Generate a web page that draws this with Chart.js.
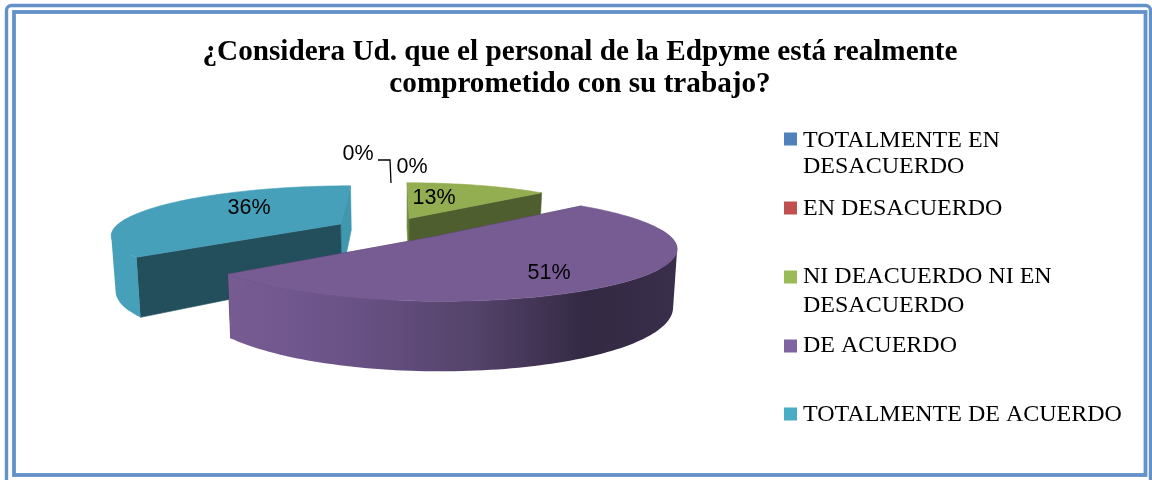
<!DOCTYPE html>
<html>
<head>
<meta charset="utf-8">
<style>
html,body{margin:0;padding:0;background:#fff;}
#w{width:1152px;height:480px;position:relative;}
</style>
<script src="https://cdn.jsdelivr.net/npm/chart.js@4"></script>
</head>
<body>
<div id="w"><canvas id="c" width="1152" height="480"></canvas></div>
<script>
const titleLines = ['¿Considera Ud. que el personal de la Edpyme está realmente', 'comprometido con su trabajo?'];
const categories = [['TOTALMENTE EN','DESACUERDO'],['EN DESACUERDO'],['NI DEACUERDO NI EN','DESACUERDO'],['DE ACUERDO'],['TOTALMENTE DE ACUERDO']];
const percentValues = [0, 0, 13, 51, 36];
const sliceColors = ['#4F81BD','#C0504D','#9BBB59','#8064A2','#4BACC6'];
const explode = [0, 0, 15, 18, 30];

const VIEW = {cx:404, cy:230, rx:228, ry:48, k:0.2, depth:54, base:0.985};
const TOP = {2:'#93AD51',3:'#775C94',4:'#47A0BA'};
const NEAR_FACE = {2:'#4F5E2F',3:'#3a2f4a',4:'#234F5D'};
const FAR_FACE = {2:'#6F8A3C',3:'#3a2f4a',4:'#3F97B0'};
const TUNE = {2:{s:0.93,dx:-8,dy:-5},3:{s:1.01,dx:2,dy:0},4:{s:1,dx:-3,dy:0}};

function proj(X,Y,low){
  const f = 1/(1-VIEW.k*Y);
  const b = low ? VIEW.base : 1;
  return [VIEW.cx + X*VIEW.rx*f*b, VIEW.cy + Y*VIEW.ry*f + (low ? VIEW.depth*f : 0)];
}
function trace(ctx,pts){
  pts.forEach((p,i)=> i?ctx.lineTo(p[0],p[1]):ctx.moveTo(p[0],p[1]));
  ctx.closePath();
}
function poly(ctx,pts,fill){
  ctx.beginPath();
  trace(ctx,pts);
  ctx.fillStyle=fill; ctx.strokeStyle=fill; ctx.lineWidth=0.6;
  ctx.fill(); ctx.stroke();
}
function signedArea(pts){
  let a=0;
  pts.forEach((p,i)=>{const q=pts[(i+1)%pts.length]; a+=p[0]*q[1]-q[0]*p[1];});
  return a;
}

const frame = {
  id:'frame',
  beforeDraw(chart){
    const ctx=chart.ctx;
    ctx.save();
    ctx.fillStyle='#fff'; ctx.fillRect(0,0,1152,480);
    ctx.strokeStyle='#6391C9';
    ctx.lineWidth=3.4;
    ctx.beginPath(); ctx.roundRect(6.5,5.5,1144,480,5); ctx.stroke();
    ctx.lineWidth=3.8;
    ctx.strokeRect(14,12,1131.5,463);
    ctx.restore();
  }
};

const pie3d = {
  id:'pie3d',
  beforeDatasetsDraw(chart){
    const ctx=chart.ctx, meta=chart.getDatasetMeta(0);
    ctx.save();
    [2,4,3].forEach(i=>{
      const arc=meta.data[i], v=arc.getProps(['startAngle','endAngle','outerRadius']);
      const e=explode[i]/100, t=TUNE[i];
      const a0=v.startAngle, a1=v.endAngle, mid=(a0+a1)/2;
      const ox=Math.cos(mid)*e, oy=Math.sin(mid)*e;
      const steps=Math.max(8,Math.round((a1-a0)*40));
      const angles=[]; for(let s=0;s<=steps;s++) angles.push(a0+(a1-a0)*s/steps);
      const pt=(a,low)=>{
        const p=proj(ox+Math.cos(a)*t.s,oy+Math.sin(a)*t.s,low);
        return [p[0]+t.dx,p[1]+t.dy];
      };
      const ap=(low)=>{const p=proj(ox,oy,low);return [p[0]+t.dx,p[1]+t.dy];};
      const apexT=ap(false), apexB=ap(true);
      const nearA=Math.sin(a0)>Math.sin(a1)?a0:a1, farA=nearA===a0?a1:a0;
      poly(ctx,[apexT,pt(farA,false),pt(farA,true),apexB],FAR_FACE[i]);
      poly(ctx,[apexT,pt(nearA,false),pt(nearA,true),apexB],NEAR_FACE[i]);
      const front=angles.filter(a=>Math.sin(a)>-0.15);
      let fill=TOP[i];
      if(i===3){
        const g=ctx.createLinearGradient(228,0,678,0);
        g.addColorStop(0,'#775C94'); g.addColorStop(0.25,'#6B5388');
        g.addColorStop(0.55,'#54436A'); g.addColorStop(0.8,'#332943'); g.addColorStop(1,'#3A2F4A');
        fill=g;
      }
      if(i!==2){
        ctx.beginPath();
        for(let s=0;s<front.length-1;s++){
          const q=[pt(front[s],false),pt(front[s+1],false),pt(front[s+1],true),pt(front[s],true)];
          trace(ctx,signedArea(q)<0?q.reverse():q);
        }
        ctx.fillStyle=fill;
        ctx.fill('nonzero');
      }
      poly(ctx,[apexT].concat(angles.map(a=>pt(a,false))),TOP[i]);
    });
    ctx.restore();
    return false;
  },
  afterDraw(chart){
    const ctx=chart.ctx;
    ctx.save();
    ctx.fillStyle='#000';
    ctx.textAlign='center'; ctx.textBaseline='middle';
    ctx.font='21.5px "Liberation Sans"';
    const labelAt=[[358,154],[412,167],[434,198],[549,273],[249,208]];
    percentValues.forEach((v,i)=>ctx.fillText(v+'%',labelAt[i][0],labelAt[i][1]));
    ctx.strokeStyle='#000'; ctx.lineWidth=1.3;
    ctx.beginPath(); ctx.moveTo(378,160); ctx.lineTo(390,160); ctx.lineTo(391,183); ctx.stroke();
    ctx.textAlign='left'; ctx.textBaseline='alphabetic';
    ctx.font='24px "Liberation Serif"';
    const legendY=[[147,173],[215],[283,312],[352],[421]];
    const markY=[139,208,277,346,414];
    categories.forEach((lines,i)=>{
      ctx.fillStyle=sliceColors[i];
      ctx.fillRect(784,markY[i]-6.5,13,13);
      ctx.fillStyle='#000';
      lines.forEach((t,j)=>ctx.fillText(t,803,legendY[i][j]));
    });
    ctx.restore();
  }
};

new Chart(document.getElementById('c'),{
  type:'pie',
  data:{
    labels:categories.map(c=>c.join(' ')),
    datasets:[{data:percentValues,backgroundColor:sliceColors,offset:explode,borderWidth:0}]
  },
  options:{
    responsive:false,
    animation:false,
    layout:{padding:{left:8}},
    plugins:{
      legend:{display:false},
      tooltip:{enabled:false},
      title:{display:true,text:titleLines,color:'#000',
        font:{family:'"Liberation Serif"',size:29.2,weight:'bold',lineHeight:1.11},
        padding:{top:36,bottom:10}}
    }
  },
  plugins:[frame,pie3d]
});
</script>
</body>
</html>
